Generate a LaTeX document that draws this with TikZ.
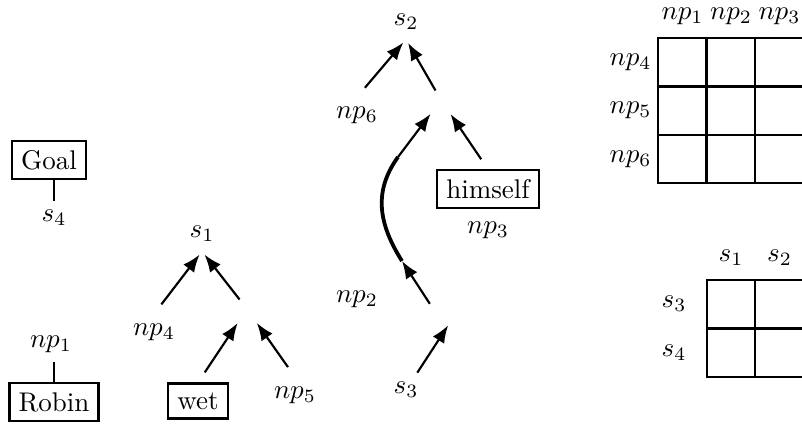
\documentclass[tikz,border=0pt]{standalone}
\usepackage{amsmath}
\usetikzlibrary{arrows.meta}

\tikzset{
  wordbox/.style={draw,thick},
  link/.style={thick,-{Latex[length=6.5pt,width=5pt]}},
}

\begin{document}
\begin{tikzpicture}[x=0.3704pt,y=-0.3704pt]
  \useasboundingbox (0,0) rectangle (802,424);
  % lone words
  \node[wordbox] (goal) at (49,160) {Goal};
  \node (s4) at (54,218) {$s_4$};
  \draw[thick] (s4.north) -- (s4.north |- goal.south);
  \node (np1) at (51,344) {$np_1$};
  \node[wordbox] (robin) at (54,402) {Robin};
  \draw[thick] (robin.north) -- (robin.north |- np1.south);

  % tree for wet
  \node (s1) at (202,234) {$s_1$};
  \node (np4) at (154,332) {$np_4$};
  \node (v1) at (247,309) {};
  \node[wordbox] (wet) at (198,401) {wet};
  \node (np5) at (295,395) {$np_5$};
  \draw[link,shorten <=4.5pt,shorten >=1.5pt] (np4.north) -- (s1.south);
  \draw[link,shorten >=1.5pt] (v1) -- (s1.south);
  \draw[link,shorten <=4.5pt,shorten >=2pt] (wet.north) -- (v1);
  \draw[link,shorten <=4.5pt,shorten >=2pt] (np5.north) -- (v1);

  % tree for himself
  \node (s2) at (406,22) {$s_2$};
  \node (np6) at (357,115) {$np_6$};
  \node (v2) at (441,100) {};
  \node[wordbox] (himself) at (488,189) {himself};
  \node (np3) at (488,230) {$np_3$};
  \coordinate (q) at (398,157);
  \coordinate (p) at (402,261);
  \node (np2) at (357,299) {$np_2$};
  \node (v3) at (446,314) {};
  \node (s3) at (406,390) {$s_3$};
  \draw[link,shorten <=4.5pt,shorten >=1.5pt] (np6.north) -- (s2.south);
  \draw[link,shorten >=1.5pt] (v2) -- (s2.south);
  \draw[link,shorten >=2pt] (q) -- (v2);
  \draw[link,shorten <=4.5pt,shorten >=2pt] (himself.north) -- (v2);
  \draw[line width=1.4pt] (p) .. controls (380,226) and (372,193) .. (q);
  \draw[link,shorten <=4.5pt] (v3.west) -- (p);
  \draw[link,shorten >=5pt] (s3) -- (v3.east);

  % np table
  \foreach \i/\x in {1/682.5,2/731,3/779.5}
    \node (col\i) at (\x,16) {$np_{\i}$};
  \foreach \i/\y in {4/62,5/110.5,6/159}
    \node[anchor=east] (row\i) at (661,\y) {$np_{\i}$};
  \draw[thick] (658,38) rectangle (803.5,183);
  \foreach \x in {706.5,755} \draw[thick] (\x,38) -- (\x,183);
  \foreach \y in {86.5,135} \draw[thick] (658,\y) -- (803.5,\y);

  % s table
  \foreach \i/\x in {1/731,2/779.5}
    \node (scol\i) at (\x,258) {$s_{\i}$};
  \foreach \i/\y in {3/304,4/352.5}
    \node (srow\i) at (674,\y) {$s_{\i}$};
  \draw[thick] (707,280) rectangle (803.5,377);
  \draw[thick] (755,280) -- (755,377);
  \draw[thick] (707,328.5) -- (803.5,328.5);
\end{tikzpicture}
\end{document}
